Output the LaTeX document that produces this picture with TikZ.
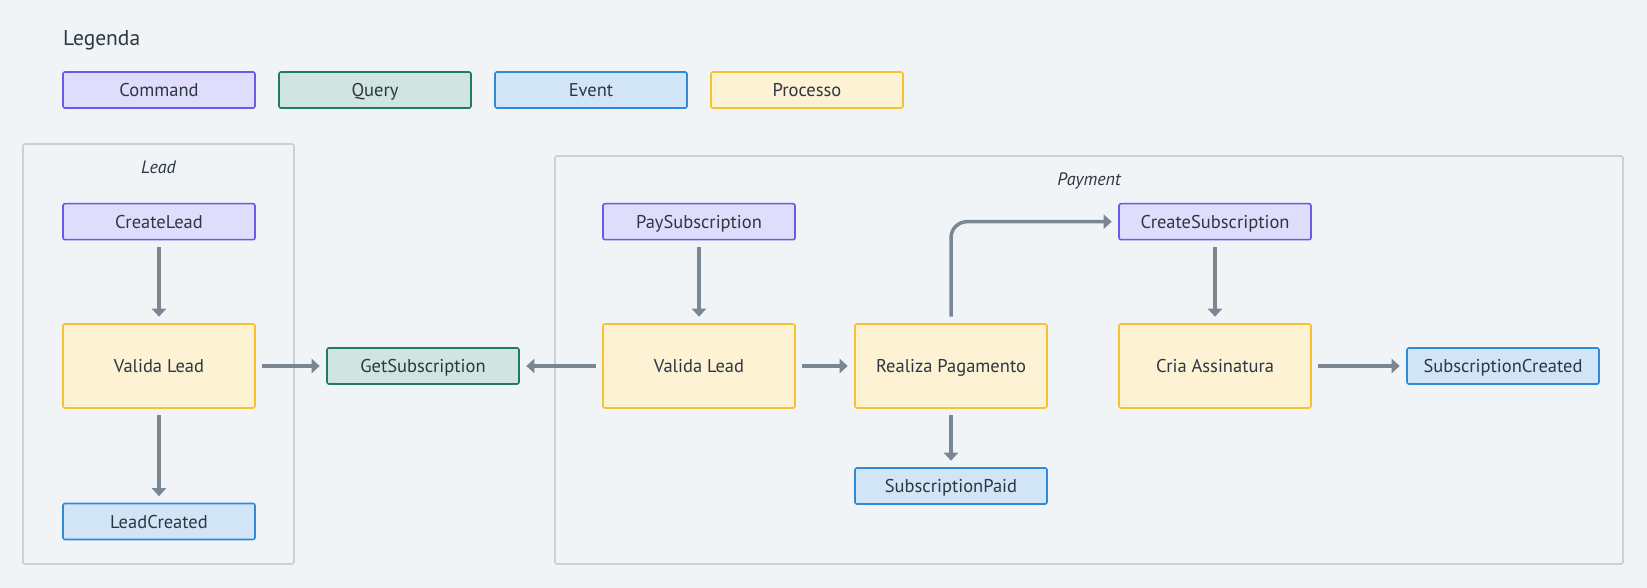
\documentclass[tikz,border=0pt]{standalone}
\usepackage{fontspec}
\setmainfont{PT Sans}
\usetikzlibrary{arrows.meta}
\definecolor{bg}{HTML}{F0F4F7}
\definecolor{txt}{HTML}{2D3742}
\definecolor{cmdfill}{HTML}{E0DCFC}
\definecolor{cmdline}{HTML}{6A5AE8}
\definecolor{qryfill}{HTML}{D0E4E0}
\definecolor{qryline}{HTML}{1F7A66}
\definecolor{evtfill}{HTML}{D2E5F6}
\definecolor{evtline}{HTML}{2E89D8}
\definecolor{procfill}{HTML}{FDF2D3}
\definecolor{procline}{HTML}{F7C22E}
\definecolor{grp}{HTML}{C8D1D9}
\definecolor{arr}{HTML}{7A8792}
\tikzset{
  box/.style={draw, line width=1.6pt, rounded corners=2pt, minimum width=192pt, minimum height=36pt, text=txt, font=\fontsize{18.5}{21}\selectfont, inner sep=0pt, text height=15pt, text depth=2pt},
  cmd/.style={box, fill=cmdfill, draw=cmdline},
  qry/.style={box, fill=qryfill, draw=qryline},
  evt/.style={box, fill=evtfill, draw=evtline},
  proc/.style={box, fill=procfill, draw=procline, minimum height=84pt},
  legproc/.style={box, fill=procfill, draw=procline},
  group/.style={draw=grp, line width=1.6pt, rounded corners=2pt},
  flow/.style={draw=arr, line width=3.5pt, -{Triangle[length=8pt,width=14pt]}, shorten <=6.5pt, shorten >=6.5pt},
  grplabel/.style={text=txt, font=\fontsize{18}{20}\selectfont\itshape, inner sep=0pt}
}
\begin{document}
\begin{tikzpicture}[x=1pt,y=-1pt]
\fill[bg] (0,0) rectangle (1647,588);
\useasboundingbox (0,0) rectangle (1647,588);
% legend
\node[anchor=base west, text=txt, font=\fontsize{21.5}{24}\selectfont, inner sep=0pt] (legtitle) at (63,46) {Legenda};
\node[cmd] (legcmd) at (159,90) {Command};
\node[qry] (legqry) at (375,90) {Query};
\node[evt] (legevt) at (591,90) {Event};
\node[legproc] (legproc) at (807,90) {Processo};
% groups
\draw[group] (23,144) rectangle (294,564);
\node[grplabel, anchor=base] (leadlabel) at (158.5,174) {Lead};
\draw[group] (555,156) rectangle (1623,564);
\node[grplabel, anchor=base] (paylabel) at (1089,186) {Payment};
% nodes
\node[cmd] (createLead) at (159,221.7) {CreateLead};
\node[proc] (valida1) at (159,366) {Valida Lead};
\node[evt] (leadCreated) at (159,521.5) {LeadCreated};
\node[qry] (getSub) at (423,366) {GetSubscription};
\node[cmd] (paySub) at (699,221.7) {PaySubscription};
\node[proc] (valida2) at (699,366) {Valida Lead};
\node[proc] (realiza) at (951,366) {Realiza Pagamento};
\node[evt] (subPaid) at (951,486) {SubscriptionPaid};
\node[cmd] (createSub) at (1215,221.7) {CreateSubscription};
\node[proc] (cria) at (1215,366) {Cria Assinatura};
\node[evt] (subCreated) at (1503,366) {SubscriptionCreated};
% connectors
\draw[flow] (createLead) -- (valida1);
\draw[flow] (valida1) -- (leadCreated);
\draw[flow] (valida1) -- (getSub);
\draw[flow] (valida2) -- (getSub);
\draw[flow] (paySub) -- (valida2);
\draw[flow] (valida2) -- (realiza);
\draw[flow] (realiza) -- (subPaid);
\draw[flow, rounded corners=16pt] (realiza.north) -- (realiza.north |- createSub.west) -- (createSub.west);
\draw[flow] (createSub) -- (cria);
\draw[flow] (cria) -- (subCreated);
\end{tikzpicture}
\end{document}
